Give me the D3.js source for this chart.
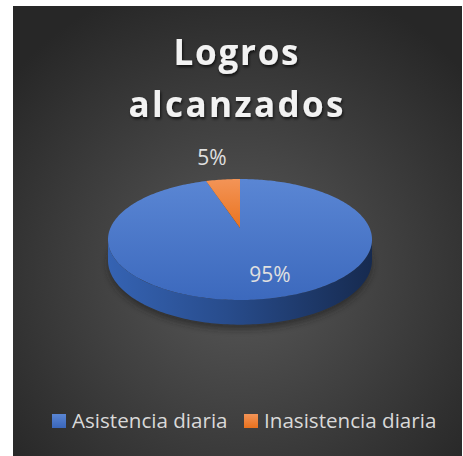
<!DOCTYPE html>
<html>
<head>
<meta charset="utf-8">
<script src="https://cdn.jsdelivr.net/npm/d3@7"></script>
<style>
  html, body { margin: 0; padding: 0; background: #ffffff; }
  svg { display: block; }
</style>
</head>
<body>
<script>
// chart data
var categories = ["Asistencia diaria", "Inasistencia diaria"];
var values = [95, 5];
var percentLabels = ["95%", "5%"];
var colors = ["#4472c4", "#ed7d31"];
var titleLines = ["Logros", "alcanzados"];

var width = 463;
var height = 456;
var fontFamily = "'Open Sans', 'DejaVu Sans', sans-serif";

var svg = d3.select("body")
            .append("svg")
            .attr("width", width)
            .attr("height", height);

var defs = svg.append("defs");

// dark radial background
var bg = defs.append("radialGradient")
             .attr("id", "bg")
             .attr("gradientUnits", "userSpaceOnUse")
             .attr("cx", 240).attr("cy", 270).attr("r", 300);
bg.append("stop").attr("offset", "0%").attr("stop-color", "#595959");
bg.append("stop").attr("offset", "100%").attr("stop-color", "#272727");

// top face gradients
var topGrad = [["#5a86d4", "#3c69bd"], ["#f39457", "#ea7420"]];
topGrad.forEach(function(c, i) {
  var g = defs.append("linearGradient")
              .attr("id", "top" + i)
              .attr("x1", 0).attr("y1", 0).attr("x2", 0).attr("y2", 1);
  g.append("stop").attr("offset", "0%").attr("stop-color", c[0]);
  g.append("stop").attr("offset", "100%").attr("stop-color", c[1]);
});

// side wall gradient
var sideGrad = defs.append("linearGradient")
                   .attr("id", "side")
                   .attr("x1", 0).attr("y1", 0).attr("x2", 1).attr("y2", 0);
sideGrad.append("stop").attr("offset", "0%").attr("stop-color", "#3563b3");
sideGrad.append("stop").attr("offset", "45%").attr("stop-color", "#284c8c");
sideGrad.append("stop").attr("offset", "100%").attr("stop-color", "#162a4f");

var legendGrad = [["#5a86d4", "#3a66ba"], ["#f39457", "#e8711d"]];
legendGrad.forEach(function(c, i) {
  var g = defs.append("linearGradient")
              .attr("id", "leg" + i)
              .attr("x1", 0).attr("y1", 0).attr("x2", 0).attr("y2", 1);
  g.append("stop").attr("offset", "0%").attr("stop-color", c[0]);
  g.append("stop").attr("offset", "100%").attr("stop-color", c[1]);
});

// title shadow
var shadow = defs.append("filter")
                 .attr("id", "shadow")
                 .attr("x", "-10%").attr("y", "-10%")
                 .attr("width", "130%").attr("height", "140%");
shadow.append("feDropShadow")
      .attr("dx", 1).attr("dy", 2)
      .attr("stdDeviation", 1.6)
      .attr("flood-color", "#000")
      .attr("flood-opacity", 0.7);

var pieShadow = defs.append("filter")
                    .attr("id", "pieshadow")
                    .attr("x", "-20%").attr("y", "-50%")
                    .attr("width", "140%").attr("height", "200%");
pieShadow.append("feGaussianBlur").attr("stdDeviation", 3);

// chart area
svg.append("rect")
   .attr("x", 13).attr("y", 6)
   .attr("width", 449).attr("height", 450)
   .attr("fill", "url(#bg)");

// title
svg.selectAll("text.title")
   .data(titleLines)
   .enter()
   .append("text")
   .attr("class", "title")
   .attr("x", 236)
   .attr("y", function(d, i) { return 65 + i * 52; })
   .attr("text-anchor", "middle")
   .attr("textLength", function(d, i) { return i == 0 ? 125 : 215; })
   .attr("lengthAdjust", "spacing")
   .style("font-family", fontFamily)
   .style("font-weight", "bold")
   .style("font-size", "35px")
   .attr("fill", "#f2f2f2")
   .attr("filter", "url(#shadow)")
   .text(function(d) { return d; });

// perspective projection of the pie disc
var cx = 240, cy = 228;
var R = 129.6, Ry = 58.3, p = 0.19, depth = 20;

function project(angle, drop) {
  var u = Math.sin(angle), v = Math.cos(angle);
  var f = 1 / (1 + p * v);
  return [cx + R * u * f, cy + (-Ry * v + (drop || 0)) * f];
}

function sampleArc(a0, a1, drop) {
  var n = Math.max(2, Math.ceil(Math.abs(a1 - a0) / 0.02));
  return d3.range(n + 1).map(function(k) {
    return project(a0 + (a1 - a0) * k / n, drop);
  });
}

var pie = d3.pie().sort(null).value(function(d) { return d; });
var arcs = pie(values);
var line = d3.line();

// side wall (front part of the disc)
var sideStart = Math.acos(-p);
var sideEnd = 2 * Math.PI - sideStart;
var sideTop = sampleArc(sideStart, sideEnd, 0);
var sideBottom = sampleArc(sideEnd, sideStart, depth);

// soft shadow under the pie
svg.append("path")
   .attr("d", line(sampleArc(0, 2 * Math.PI, depth + 4)) + "Z")
   .attr("fill", "#1a1a1a")
   .attr("opacity", 0.55)
   .attr("filter", "url(#pieshadow)");

svg.append("path")
   .attr("d", line(sideTop.concat(sideBottom)) + "Z")
   .attr("fill", "url(#side)");

// top face slices
svg.selectAll("path.slice")
   .data(arcs)
   .enter()
   .append("path")
   .attr("class", "slice")
   .attr("d", function(d) {
     return line([[cx, cy]].concat(sampleArc(d.startAngle, d.endAngle, 0))) + "Z";
   })
   .attr("fill", function(d, i) { return "url(#top" + i + ")"; });

// data labels
var labelPos = [[270, 282, 21], [212, 165, 21]];
svg.selectAll("text.label")
   .data(percentLabels)
   .enter()
   .append("text")
   .attr("class", "label")
   .attr("x", function(d, i) { return labelPos[i][0]; })
   .attr("y", function(d, i) { return labelPos[i][1]; })
   .attr("text-anchor", "middle")
   .style("font-family", fontFamily)
   .style("font-size", function(d, i) { return labelPos[i][2] + "px"; })
   .attr("fill", "#e0e0e0")
   .text(function(d) { return d; });

// legend
var legendX = [52, 244];
var legend = svg.selectAll("g.legend")
                .data(categories)
                .enter()
                .append("g")
                .attr("class", "legend")
                .attr("transform", function(d, i) { return "translate(" + legendX[i] + ",414)"; });

legend.append("rect")
      .attr("width", 14).attr("height", 14)
      .attr("fill", function(d, i) { return "url(#leg" + i + ")"; });

legend.append("text")
      .attr("x", 20)
      .attr("y", 14)
      .style("font-family", fontFamily)
      .style("font-size", "20.6px")
      .attr("fill", "#d9d9d9")
      .text(function(d) { return d; });
</script>
</body>
</html>
